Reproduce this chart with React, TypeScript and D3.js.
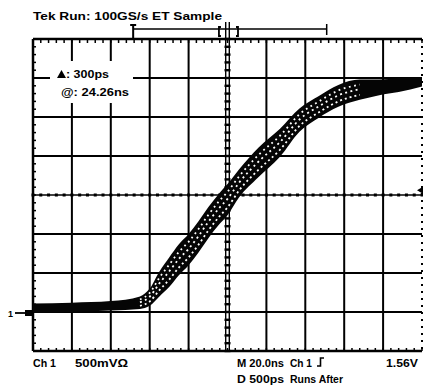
import { useEffect, useRef } from 'react';
import * as d3 from 'd3';

const timeNs = [-100, -80, -60, -45, -40, -35, -30, -25, -20, -15, -10, -4, 0, 6, 16, 27, 37, 47, 57, 68, 78, 88, 100];
const voltsV = [0.05, 0.06, 0.08, 0.12, 0.19, 0.36, 0.51, 0.67, 0.8, 0.96, 1.14, 1.33, 1.44, 1.65, 1.92, 2.17, 2.46, 2.63, 2.77, 2.85, 2.88, 2.91, 2.95];
// half width of the ET sample cloud, volts
const spreadV = [0.06, 0.06, 0.06, 0.08, 0.11, 0.16, 0.19, 0.2, 0.2, 0.2, 0.2, 0.2, 0.2, 0.18, 0.19, 0.18, 0.15, 0.14, 0.14, 0.13, 0.1, 0.09, 0.06];

const timeTicks = [-100, -80, -60, -40, -20, 0, 20, 40, 60, 80, 100];
const voltTicks = [-0.5, 0, 0.5, 1, 1.5, 2, 2.5, 3, 3.5];

const titleText = 'Tek Run: 100GS/s ET Sample';
const deltaText = ': 300ps';
const atText = '@: 24.26ns';
const chText = 'Ch 1';
const scaleText = '500mVΩ';
const timebaseText = 'M 20.0ns';
const trigSrcText = 'Ch 1';
const trigLevelText = '1.56V';
const delayText = 'D 500ps';
const runsText = 'Runs After';
const triggerLevel = 1.56;
const recordStart = -48.5;
const recordEnd = 51;
const viewLeft = -4.4;
const viewRight = 5.4;

const W = 423;
const H = 389;
const FONT = 'Liberation Sans, Arial, sans-serif';

type Pt = { t: number; v: number; s: number };

export default function App() {
  const ref = useRef<SVGSVGElement>(null);

  useEffect(() => {
    document.body.style.margin = '0';
    const el = ref.current;
    if (!el) return;
    const svg = d3.select(el);
    svg.selectAll('*').remove();

    const x = d3.scaleLinear().domain([-100, 100]).range([33, 422]);
    const y = d3.scaleLinear().domain([-0.5, 3.5]).range([351, 39]);
    const x0 = x(0);

    svg.append('rect').attr('width', W).attr('height', H).attr('fill', '#fff');

    const grid = svg.append('g').attr('stroke', '#000');

    // major divisions
    grid
      .selectAll('line.v')
      .data(timeTicks.filter((t) => t !== 0 && t !== 100))
      .join('line')
      .attr('x1', (t) => x(t))
      .attr('x2', (t) => x(t))
      .attr('y1', y(3.5))
      .attr('y2', y(-0.5))
      .attr('stroke-width', (t) => (t === -100 ? 2.5 : 2));
    grid
      .selectAll('line.h')
      .data(voltTicks.filter((v) => v !== 1.5))
      .join('line')
      .attr('x1', x(-100))
      .attr('x2', x(100))
      .attr('y1', (v) => y(v))
      .attr('y2', (v) => y(v))
      .attr('stroke-width', (v) => (v === 3.5 || v === -0.5 ? 2.5 : 2));

    // right edge is only dotted
    grid
      .append('line')
      .attr('x1', x(100))
      .attr('x2', x(100))
      .attr('y1', y(3.5))
      .attr('y2', y(-0.5))
      .attr('stroke-width', 2)
      .attr('stroke-dasharray', '2 5');

    // centre horizontal: thin line with dots
    grid
      .append('line')
      .attr('x1', x(-100))
      .attr('x2', x(100))
      .attr('y1', y(1.5))
      .attr('y2', y(1.5))
      .attr('stroke-width', 1.3);
    const minorT = d3.range(-100, 100.01, 4);
    const minorV = d3.range(-0.5, 3.501, 0.1);
    grid
      .selectAll('rect.hd')
      .data(minorT)
      .join('rect')
      .attr('x', (t) => x(t) - 1.5)
      .attr('y', y(1.5) - 1.5)
      .attr('width', 3)
      .attr('height', 3)
      .attr('stroke', 'none')
      .attr('fill', '#000');

    // centre vertical: doubled with dots
    for (const dx of [-1.8, 1.8]) {
      grid
        .append('line')
        .attr('x1', x0 + dx)
        .attr('x2', x0 + dx)
        .attr('y1', y(3.5))
        .attr('y2', y(-0.5))
        .attr('stroke-width', 1.4);
    }
    grid
      .selectAll('rect.vd')
      .data(minorV)
      .join('rect')
      .attr('x', x0 - 3)
      .attr('y', (v) => y(v) - 1.2)
      .attr('width', 6)
      .attr('height', 2.4)
      .attr('stroke', 'none')
      .attr('fill', '#000');

    // border minor ticks
    grid
      .selectAll('line.tt')
      .data(minorT)
      .join('line')
      .attr('x1', (t) => x(t))
      .attr('x2', (t) => x(t))
      .attr('y1', y(3.5))
      .attr('y2', y(3.5) + 4)
      .attr('stroke-width', 1.5);
    grid
      .selectAll('line.bt')
      .data(minorT)
      .join('line')
      .attr('x1', (t) => x(t))
      .attr('x2', (t) => x(t))
      .attr('y1', y(-0.5))
      .attr('y2', y(-0.5) - 3)
      .attr('stroke-width', 1.5);
    grid
      .selectAll('line.lt')
      .data(minorV)
      .join('line')
      .attr('x1', x(-100))
      .attr('x2', x(-100) + 3)
      .attr('y1', (v) => y(v))
      .attr('y2', (v) => y(v))
      .attr('stroke-width', 1.5);

    // readout box blanks the graticule
    svg.append('rect').attr('x', 50).attr('y', 61).attr('width', 83).attr('height', 42).attr('fill', '#fff');

    // waveform: ET sample cloud
    const pts: Pt[] = timeNs.map((t, i) => ({ t, v: voltsV[i], s: spreadV[i] }));
    const band = d3
      .area<Pt>()
      .x((d) => x(d.t))
      .y0((d) => y(d.v - d.s))
      .y1((d) => y(d.v + d.s))
      .curve(d3.curveMonotoneX);
    svg.append('path').datum(pts).attr('d', band).attr('fill', '#050505');

    const inner = (k: number) =>
      d3
        .line<Pt>()
        .x((d) => x(d.t))
        .y((d) => y(d.v + d.s * k))
        .curve(d3.curveMonotoneX);
    const rows: [number, string][] = [
      [-0.5, '2 3'],
      [0.05, '2 3.4'],
      [0.5, '1.8 3.6'],
    ];
    for (const [k, dash] of rows) {
      svg
        .append('path')
        .datum(pts.slice(3, 20))
        .attr('d', inner(k))
        .attr('fill', 'none')
        .attr('stroke', '#fff')
        .attr('stroke-width', 1.8)
        .attr('stroke-dasharray', dash);
    }

    const txt = (s: string, tx: number, ty: number, len?: number) => {
      const n = svg
        .append('text')
        .attr('x', tx)
        .attr('y', ty)
        .attr('font-family', FONT)
        .attr('font-weight', 'bold')
        .attr('font-size', 10.5)
        .attr('fill', '#000')
        .text(s);
      if (len) n.attr('textLength', len).attr('lengthAdjust', 'spacingAndGlyphs');
      return n;
    };

    txt(titleText, 33, 20, 189);
    // delta triangle glyph drawn as a filled shape
    svg.append('path').attr('d', 'M57,78 L61.5,70 L66,78 Z').attr('fill', '#000');
    txt(deltaText, 66, 78, 43);
    txt(atText, 61, 96, 68);
    txt(chText, 33, 367, 23);
    txt(scaleText, 75, 367, 53);
    txt(timebaseText, 237, 367, 47);
    txt(trigSrcText, 290, 367, 22);
    txt(trigLevelText, 386, 367, 32);
    txt(delayText, 237, 383, 47);
    txt(runsText, 290, 383, 53);

    // rising-edge trigger symbol
    svg
      .append('path')
      .attr('d', 'M317,366 h3.5 v-8 h3.5')
      .attr('fill', 'none')
      .attr('stroke', '#000')
      .attr('stroke-width', 1.6);

    // record view bar at top
    const top = svg.append('g').attr('stroke', '#000').attr('fill', 'none');
    top.append('line').attr('x1', x(recordStart)).attr('x2', x(recordEnd)).attr('y1', 29).attr('y2', 29).attr('stroke-width', 1.5);
    top.append('path').attr('d', `M${x(recordStart) - 3},25 h6 M${x(recordStart)},25 v14`).attr('stroke-width', 2);
    top.append('line').attr('x1', x(recordEnd)).attr('x2', x(recordEnd)).attr('y1', 24).attr('y2', 35).attr('stroke-width', 1.5);
    top.append('path').attr('d', `M${x(viewLeft) + 2},27 h-2 v9 h2`).attr('stroke-width', 1.8);
    top.append('path').attr('d', `M${x(viewRight) - 2},27 h2 v9 h-2`).attr('stroke-width', 1.8);
    for (const dx of [-1.8, 1.8]) {
      top.append('line').attr('x1', x0 + dx).attr('x2', x0 + dx).attr('y1', 22).attr('y2', 40).attr('stroke-width', 1.4);
    }

    // ground reference marker
    svg.append('text').attr('x', 8).attr('y', 317).attr('font-family', FONT).attr('font-weight', 'bold').attr('font-size', 9).text('1');
    svg.append('line').attr('x1', 15).attr('x2', 30).attr('y1', y(0) + 1).attr('y2', y(0) + 1).attr('stroke', '#000').attr('stroke-width', 1.8);
    svg.append('rect').attr('x', 25).attr('y', y(0) - 2).attr('width', 8).attr('height', 6).attr('fill', '#000');

    // trigger level marker
    const ty = y(triggerLevel);
    svg.append('path').attr('d', `M${W},${ty - 3.5} L${W - 6},${ty} L${W},${ty + 3.5} Z`).attr('fill', '#000');
  }, []);

  return <svg ref={ref} width={W} height={H} style={{ display: 'block' }} />;
}
